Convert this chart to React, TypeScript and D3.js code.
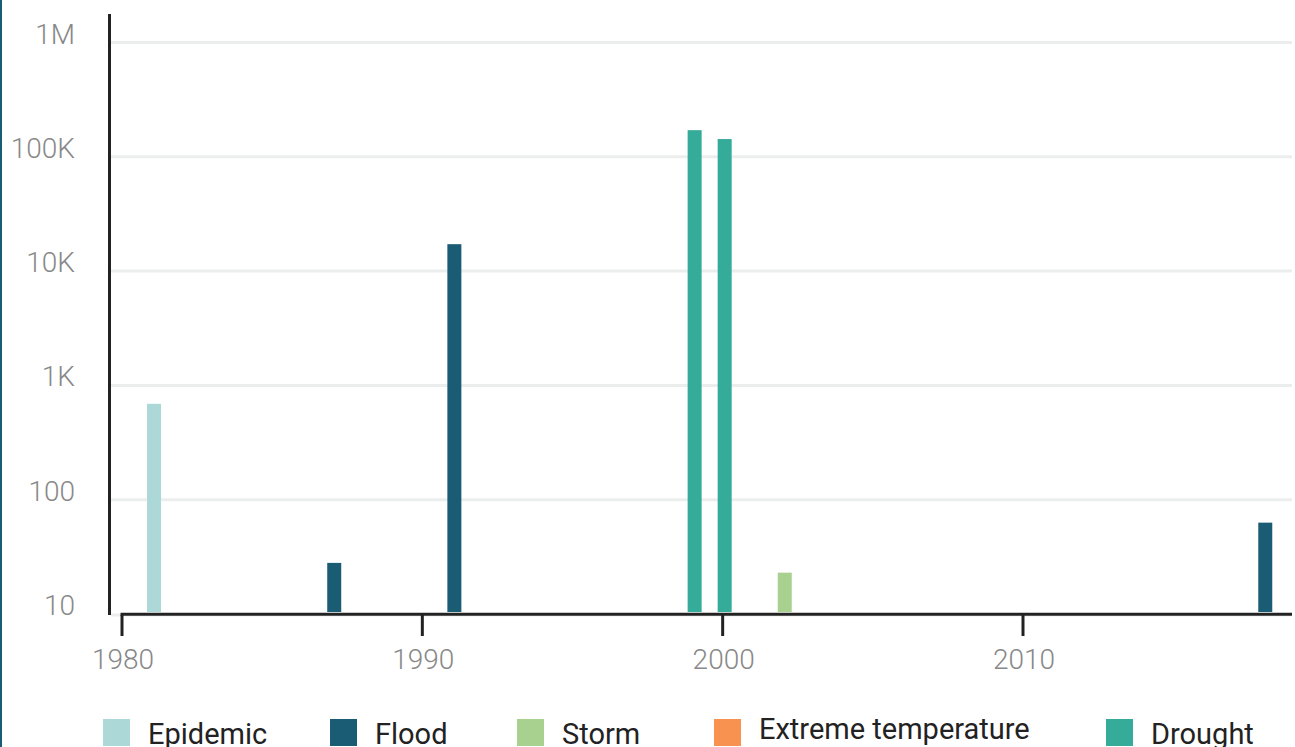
import React from "react";
import * as d3 from "d3";

const seriesNames = ["Epidemic", "Flood", "Storm", "Extreme temperature", "Drought"];
const seriesColors = ["#acd8d7", "#1a5c73", "#a8d18f", "#f79250", "#35ab99"];

const eventYears = [1981, 1987, 1991, 1999, 2000, 2002, 2018];
const eventTypes = ["Epidemic", "Flood", "Flood", "Drought", "Drought", "Storm", "Flood"];
const eventValues = [690, 28, 17200, 171000, 143000, 23, 63];

const yTicks = [10, 100, 1000, 10000, 100000, 1000000];
const yTickLabels = ["10", "100", "1K", "10K", "100K", "1M"];
const xTicks = [1980, 1990, 2000, 2010];

const legendX = [103, 330, 517, 714, 1106];

export default function App() {
  const W = 1295, H = 747;
  const x = d3.scaleLinear().domain([1980, 2010]).range([122, 1023]);
  const y = d3.scaleLog().domain([10, 1000000]).range([614, 42.5]);
  const color = d3.scaleOrdinal<string, string>().domain(seriesNames).range(seriesColors);
  const right = 1292;
  const barW = 14;
  return (
    <svg width={W} height={H} style={{ position: "fixed", left: 0, top: 0, background: "#fff" }}>
      <rect x={0} y={0} width={W} height={H} fill="#fff" />
      <rect x={0} y={0} width={2} height={H} fill="#1a5c73" />
      {yTicks.map((t, i) => (
        <g key={t}>
          <line x1={111} x2={right} y1={y(t) + (i === 0 ? 1 : 0)} y2={y(t) + (i === 0 ? 1 : 0)} stroke="#eceeee" strokeWidth={3} />
          <text x={75} y={y(t) + 1} textAnchor="end" fontFamily="Roboto" fontWeight={300} fontSize={28} fill="#888">
            {yTickLabels[i]}
          </text>
        </g>
      ))}
      {eventYears.map((yr, i) => (
        <rect key={i} x={x(yr) - 5} width={barW} y={y(eventValues[i])} height={612 - y(eventValues[i])} fill={color(eventTypes[i])} />
      ))}
      <line x1={109.5} x2={109.5} y1={14} y2={615} stroke="#222" strokeWidth={3} />
      <line x1={x(1980) - 1.5} x2={right} y1={614.3} y2={614.3} stroke="#222" strokeWidth={3} />
      {xTicks.map((t) => (
        <g key={t}>
          <line x1={x(t)} x2={x(t)} y1={615} y2={636} stroke="#222" strokeWidth={3} />
          <text x={x(t) + 1} y={669} textAnchor="middle" fontFamily="Roboto" fontWeight={300} fontSize={28} fill="#888">
            {t}
          </text>
        </g>
      ))}
      {seriesNames.map((n, i) => (
        <g key={n}>
          <rect x={legendX[i]} y={719} width={27} height={27} fill={seriesColors[i]} />
          <text x={legendX[i] + 45} y={n === "Extreme temperature" ? 739 : 744} fontFamily="Roboto" fontSize={29} fill="#222">
            {n}
          </text>
        </g>
      ))}
    </svg>
  );
}
